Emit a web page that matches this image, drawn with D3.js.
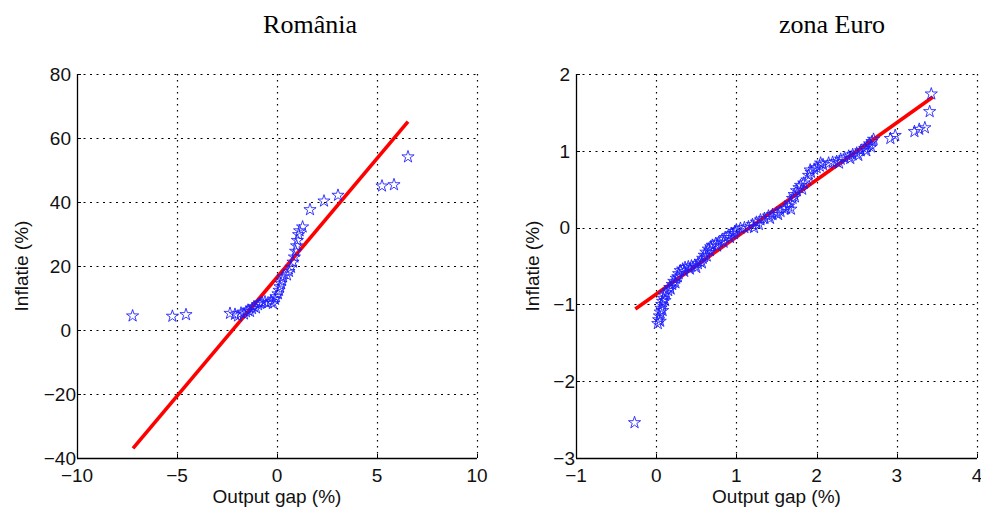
<!DOCTYPE html>
<html><head><meta charset="utf-8">
<script src="https://cdn.jsdelivr.net/npm/d3@7"></script>
<style>
html,body{margin:0;padding:0;background:#fff;}
svg{display:block;}
</style></head>
<body>
<svg id="chart" width="981" height="508"></svg>
<script>
// ---------- DATA ----------
const romTitle = "România";
const euroTitle = "zona Euro";
const xLabel = "Output gap (%)";
const yLabel = "Inflatie (%)";

const romXTicks = [-10, -5, 0, 5, 10];
const romYTicks = [-40, -20, 0, 20, 40, 60, 80];
const euroXTicks = [-1, 0, 1, 2, 3, 4];
const euroYTicks = [-3, -2, -1, 0, 1, 2];

// Romania: [output gap, inflation]
const romPoints = [
  [-7.22,4.4],[-5.23,4.3],[-4.55,4.8],[-2.35,5.2],[-2.1,4.9],[-1.95,4.4],[-1.8,5.3],
  [-1.65,5.0],[-1.55,5.7],[-1.45,6.2],[-1.35,5.8],[-1.25,6.7],[-1.15,7.3],[-1.05,6.9],
  [-0.95,7.9],[-0.85,8.3],[-0.75,8.6],[-0.6,8.8],[-0.45,8.5],[-0.3,9.0],[-0.2,8.3],
  [-0.1,9.6],[-0.05,10.4],[0.05,11.3],[0.1,12.4],[0.15,13.5],[0.2,14.6],[0.25,15.6],
  [0.3,16.6],[0.5,17.2],[0.6,18.3],[0.7,19.6],[0.8,21.2],[0.87,22.8],[0.93,24.6],
  [0.98,26.3],[1.02,28.0],[1.08,29.8],[1.13,31.0],[1.28,32.2],[1.65,37.6],[2.35,40.3],
  [3.05,42.1],[5.25,45.0],[5.85,45.4],[6.55,54.1]
];
const romFitX = [-7.2, 6.55];
const romFitY = [-37.0, 65.1];

// Euro area: [output gap, inflation]
const euroPoints = [
  [-0.27,-2.54],
  [0.02,-1.25],[0.03,-1.2],[0.04,-1.15],[0.05,-1.1],[0.06,-1.05],[0.07,-1.0],[0.08,-0.96],
  [0.09,-0.92],[0.1,-0.88],[0.12,-0.85],[0.05,-1.22],[0.08,-1.08],[0.11,-0.95],
  [0.15,-0.82],[0.17,-0.78],[0.2,-0.74],[0.22,-0.7],[0.25,-0.66],[0.28,-0.6],[0.3,-0.56],
  [0.18,-0.8],[0.24,-0.72],[0.27,-0.64],
  [0.33,-0.54],[0.36,-0.52],[0.4,-0.51],[0.44,-0.5],[0.48,-0.49],[0.52,-0.47],
  [0.35,-0.57],[0.42,-0.54],[0.5,-0.52],
  [0.55,-0.44],[0.58,-0.4],[0.6,-0.36],[0.62,-0.32],[0.65,-0.28],[0.68,-0.25],[0.7,-0.23],
  [0.57,-0.46],[0.63,-0.37],[0.67,-0.3],
  [0.74,-0.21],[0.78,-0.19],[0.82,-0.16],[0.86,-0.13],[0.9,-0.1],[0.94,-0.08],[0.98,-0.05],[1.0,-0.03],
  [0.76,-0.24],[0.84,-0.19],[0.92,-0.13],[0.97,-0.08],
  [1.05,-0.01],[1.1,0.0],[1.15,0.01],[1.2,0.04],[1.25,0.07],[1.3,0.1],[1.22,0.0],[1.28,0.04],
  [1.35,0.12],[1.4,0.15],[1.45,0.17],[1.5,0.19],[1.55,0.21],[1.6,0.24],[1.42,0.12],[1.52,0.17],
  [1.62,0.25],[1.65,0.28],[1.67,0.32],[1.68,0.24],[1.7,0.38],[1.72,0.43],[1.75,0.48],[1.78,0.52],
  [1.8,0.55],[1.84,0.58],[1.88,0.62],[1.9,0.68],[1.93,0.72],[1.97,0.76],[2.0,0.78],
  [2.04,0.8],[2.08,0.82],[1.92,0.75],[2.05,0.84],[1.73,0.4],[1.82,0.5],
  [2.15,0.84],[2.2,0.85],[2.25,0.86],[2.3,0.89],[2.35,0.91],[2.4,0.93],[2.45,0.95],
  [2.5,0.97],[2.55,1.0],[2.6,1.03],[2.63,1.06],[2.66,1.09],[2.69,1.12],[2.71,1.15],
  [2.28,0.84],[2.42,0.9],[2.52,0.94],[2.62,1.0],[2.68,1.05],
  [2.92,1.16],[2.98,1.2],[3.22,1.25],[3.28,1.28],[3.35,1.3],[3.41,1.51],[3.43,1.74]
];
const euroFitX = [-0.26, 3.45];
const euroFitY = [-1.06, 1.70];

// ---------- DRAWING ----------
const svg = d3.select("#chart");
const FONT = "'Liberation Sans', Arial, Helvetica, sans-serif";
const fmt = v => (v < 0 ? "\u2212" + Math.abs(v) : String(v));
const px = v => Math.round(v) + 0.5;

function panel(o) {
  const x = d3.scaleLinear().domain(o.xDomain).range([o.left, o.right]);
  const y = d3.scaleLinear().domain(o.yDomain).range([o.bottom, o.top]);
  const g = svg.append("g");

  // grid (dotted)
  g.selectAll(".gx").data(o.xTicks.filter(t => t !== o.xDomain[0])).enter().append("line")
    .attr("x1", d => px(x(d))).attr("x2", d => px(x(d)))
    .attr("y1", o.top).attr("y2", o.bottom)
    .attr("stroke", "#000").attr("stroke-width", 1.2).attr("stroke-dasharray", "1.5,4.5");
  g.selectAll(".gy").data(o.yTicks.filter(t => t !== o.yDomain[0])).enter().append("line")
    .attr("y1", d => px(y(d))).attr("y2", d => px(y(d)))
    .attr("x1", o.left).attr("x2", o.right)
    .attr("stroke", "#000").attr("stroke-width", 1.2).attr("stroke-dasharray", "2,4.5");

  // axes lines
  g.append("line").attr("x1", px(o.left)).attr("x2", px(o.left)).attr("y1", o.top).attr("y2", o.bottom)
    .attr("stroke", "#000").attr("stroke-width", 1.3);
  g.append("line").attr("x1", o.left).attr("x2", o.right).attr("y1", px(o.bottom)).attr("y2", px(o.bottom))
    .attr("stroke", "#000").attr("stroke-width", 1.3);
  // inward ticks
  g.selectAll(".tx").data(o.xTicks).enter().append("line")
    .attr("x1", d => px(x(d))).attr("x2", d => px(x(d))).attr("y1", o.bottom).attr("y2", o.bottom - 4)
    .attr("stroke", "#000").attr("stroke-width", 1);
  g.selectAll(".ty").data(o.yTicks).enter().append("line")
    .attr("y1", d => px(y(d))).attr("y2", d => px(y(d))).attr("x1", o.left).attr("x2", o.left + 4)
    .attr("stroke", "#000").attr("stroke-width", 1);

  // tick labels
  g.selectAll(".lx").data(o.xTicks).enter().append("text")
    .attr("x", d => x(d)).attr("y", o.bottom + 24)
    .attr("text-anchor", "middle").attr("font-family", FONT).attr("font-size", 19).attr("fill", "#111")
    .text(fmt);
  g.selectAll(".ly").data(o.yTicks).enter().append("text")
    .attr("x", d => o.left - (d < 0 ? 1 : 6)).attr("y", d => y(d)).attr("dy", "0.36em")
    .attr("text-anchor", "end").attr("font-family", FONT).attr("font-size", 19).attr("fill", "#111")
    .text(fmt);

  // axis titles
  g.append("text").attr("x", (o.left + o.right) / 2).attr("y", 503)
    .attr("text-anchor", "middle").attr("font-family", FONT).attr("font-size", 19).attr("fill", "#111")
    .text(xLabel);
  g.append("text").attr("transform", `translate(${o.ylabX},266) rotate(-90)`)
    .attr("text-anchor", "middle").attr("font-family", FONT).attr("font-size", 19).attr("fill", "#111")
    .text(yLabel);

  // panel title
  g.append("text").attr("x", o.titleX).attr("y", 33)
    .attr("text-anchor", "middle").attr("font-family", "'Liberation Serif', 'Times New Roman', serif")
    .attr("font-size", 26).attr("fill", "#000").text(o.title);

  // fit line
  g.append("line")
    .attr("x1", x(o.fitX[0])).attr("y1", y(o.fitY[0]))
    .attr("x2", x(o.fitX[1])).attr("y2", y(o.fitY[1]))
    .attr("stroke", "#ff0000").attr("stroke-width", 3.6);

  // stars
  const star = d3.symbol().type(d3.symbolStar).size(46);
  g.selectAll(".pt").data(o.points).enter().append("path")
    .attr("d", star)
    .attr("transform", d => `translate(${x(d[0])},${y(d[1])})`)
    .attr("fill", "none").attr("stroke", "#1a1aff").attr("stroke-width", 1)
    .attr("stroke-opacity", 0.85);
}

panel({
  left: 77, right: 477, top: 74, bottom: 458,
  xDomain: [-10, 10], yDomain: [-40, 80],
  xTicks: romXTicks, yTicks: romYTicks,
  points: romPoints, fitX: romFitX, fitY: romFitY,
  title: romTitle, titleX: 310, ylabX: 28
});
panel({
  left: 576, right: 977, top: 74, bottom: 458,
  xDomain: [-1, 4], yDomain: [-3, 2],
  xTicks: euroXTicks, yTicks: euroYTicks,
  points: euroPoints, fitX: euroFitX, fitY: euroFitY,
  title: euroTitle, titleX: 832, ylabX: 539
});
</script>
</body></html>
